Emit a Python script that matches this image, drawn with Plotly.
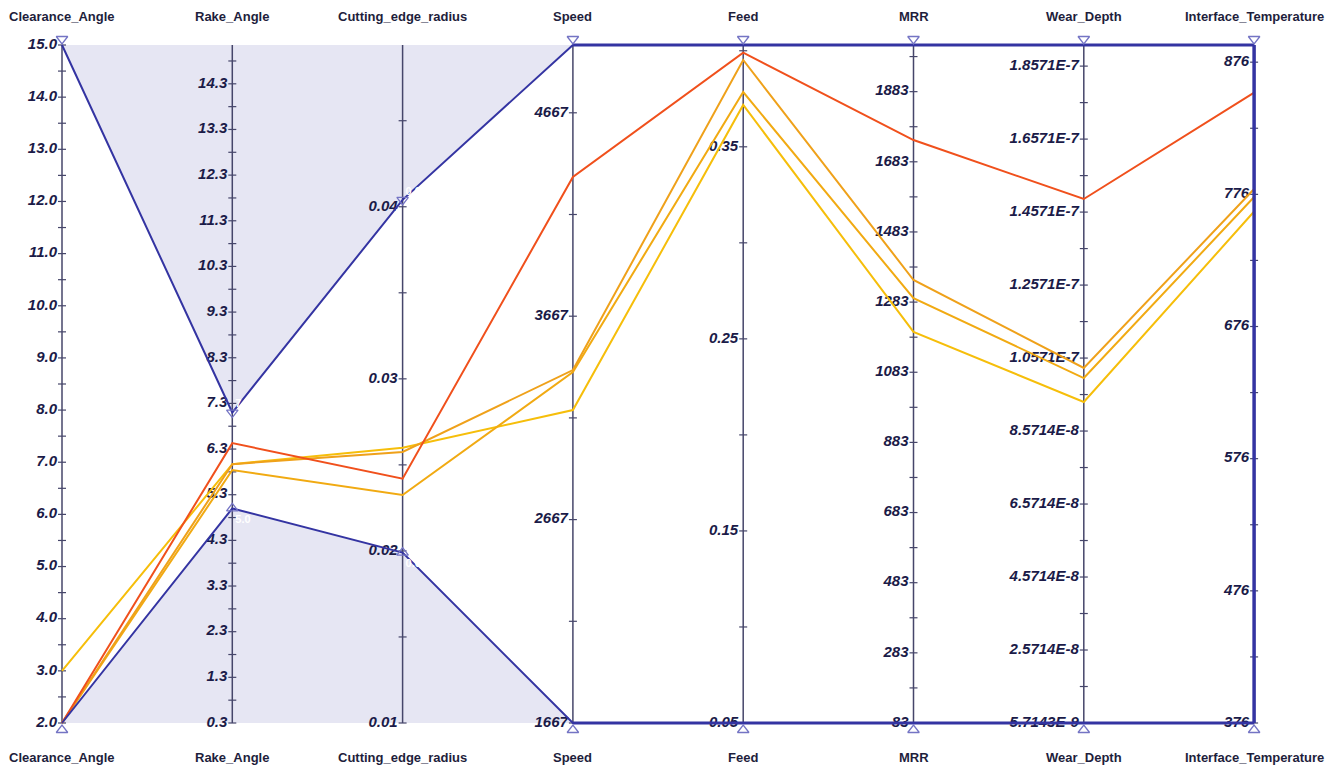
import plotly.graph_objects as go

# ---------------------------------------------------------------- data
dimensions = ["Clearance_Angle", "Rake_Angle", "Cutting_edge_radius", "Speed",
              "Feed", "MRR", "Wear_Depth", "Interface_Temperature"]

# axis ranges
range_min = [2.0, 0.3, 0.01, 1666.67, 0.05, 83.0, 5.7143e-9, 376.0]
range_max = [15.0, 15.15, 0.0494, 5000.0, 0.403, 2016.0, 1.915e-7, 889.0]

# designs, one value per design in each list
clearance_angle = [2.0, 2.0, 2.0, 3.0]
rake_angle = [6.43, 5.97, 5.84, 5.97]
cutting_edge_radius = [0.0242, 0.02575, 0.02325, 0.0260]
speed = [4351, 3402, 3392, 3205]
feed = [0.399, 0.3952, 0.3785, 0.3718]
mrr = [1745, 1346, 1294, 1198]
wear_depth = [1.493e-7, 1.030e-7, 1.0024e-7, 9.367e-8]
interface_temperature = [853, 780, 774, 763]
design_colors = ["#F0501C", "#EFA11A", "#F1AA12", "#F6BE0A"]

# active filter bounds on each axis
filter_low = [2.0, 5.0, 0.0199, 1666.67, 0.05, 83.0, 5.7143e-9, 376.0]
filter_high = [15.0, 7.1, 0.0404, 5000.0, 0.403, 2016.0, 1.915e-7, 889.0]
filter_low_text = ["", "5.0", "0.02", "", "", "", "", ""]
filter_high_text = ["", "7.1", "0.04", "", "", "", "", ""]

# tick values and labels per axis
clearance_ticks = [2.0 + i for i in range(14)]
clearance_labels = ["2.0", "3.0", "4.0", "5.0", "6.0", "7.0", "8.0", "9.0",
                    "10.0", "11.0", "12.0", "13.0", "14.0", "15.0"]
rake_ticks = [0.3 + i for i in range(15)]
rake_labels = ["0.3", "1.3", "2.3", "3.3", "4.3", "5.3", "6.3", "7.3",
               "8.3", "9.3", "10.3", "11.3", "12.3", "13.3", "14.3"]
radius_ticks = [0.01, 0.02, 0.03, 0.04]
radius_labels = ["0.01", "0.02", "0.03", "0.04"]
speed_ticks = [1666.67, 2666.67, 3666.67, 4666.67]
speed_labels = ["1667", "2667", "3667", "4667"]
feed_ticks = [0.05, 0.15, 0.25, 0.35]
feed_labels = ["0.05", "0.15", "0.25", "0.35"]
mrr_ticks = [83 + 200 * i for i in range(10)]
mrr_labels = ["83", "283", "483", "683", "883", "1083", "1283", "1483", "1683", "1883"]
wear_ticks = [5.7143e-9 + 2e-8 * i for i in range(10)]
wear_labels = ["5.7143E-9", "2.5714E-8", "4.5714E-8", "6.5714E-8", "8.5714E-8",
               "1.0571E-7", "1.2571E-7", "1.4571E-7", "1.6571E-7", "1.8571E-7"]
temp_ticks = [376, 476, 576, 676, 776, 876]
temp_labels = ["376", "476", "576", "676", "776", "876"]

tick_sets = [(clearance_ticks, clearance_labels), (rake_ticks, rake_labels),
             (radius_ticks, radius_labels), (speed_ticks, speed_labels),
             (feed_ticks, feed_labels), (mrr_ticks, mrr_labels),
             (wear_ticks, wear_labels), (temp_ticks, temp_labels)]

# ---------------------------------------------------------------- layout geometry
W, H = 1338, 767
X0_PX, DX_PX = 62, 170.3          # first axis position, axis spacing
TOP_PX, BOT_PX = 45, 723          # plot band
SPAN_PX = BOT_PX - TOP_PX
PX_X = 1.0 / DX_PX
PX_Y = 1.0 / SPAN_PX

AXIS_COLOR = "#46466A"
FILTER_COLOR = "#3434A2"
SHADE_COLOR = "#E6E6F3"
TEXT_COLOR = "#1B1B48"
FONT = "Arial, Liberation Sans, sans-serif"

n = len(dimensions)
xs = list(range(n))


def norm(v, i):
    return (v - range_min[i]) / (range_max[i] - range_min[i])


fig = go.Figure()

# shaded area outside the filter band
fig.add_trace(go.Scatter(x=xs, y=[1.0] * n, mode="lines", line=dict(width=0),
                         hoverinfo="skip"))
fig.add_trace(go.Scatter(x=xs, y=[norm(filter_high[i], i) for i in xs], mode="lines",
                         line=dict(width=0), fill="tonexty", fillcolor=SHADE_COLOR,
                         hoverinfo="skip"))
fig.add_trace(go.Scatter(x=xs, y=[0.0] * n, mode="lines", line=dict(width=0),
                         hoverinfo="skip"))
fig.add_trace(go.Scatter(x=xs, y=[norm(filter_low[i], i) for i in xs], mode="lines",
                         line=dict(width=0), fill="tonexty", fillcolor=SHADE_COLOR,
                         hoverinfo="skip"))

# axis lines
ax_x, ax_y = [], []
for i in xs:
    ax_x += [i, i, None]
    ax_y += [0.0, 1.0, None]
fig.add_trace(go.Scatter(x=ax_x, y=ax_y, mode="lines",
                         line=dict(color=AXIS_COLOR, width=1.5), hoverinfo="skip"))

# tick marks (major at labels, minor halfway between)
tk_x, tk_y = [], []
half = 4 * PX_X
for i, (tv, _) in enumerate(tick_sets):
    step = tv[1] - tv[0]
    marks = list(tv) + [t + step / 2 for t in tv]
    for t in marks:
        yy = norm(t, i)
        if -1e-6 <= yy <= 1 + 1e-6:
            tk_x += [i - half, i + half, None]
            tk_y += [yy, yy, None]
fig.add_trace(go.Scatter(x=tk_x, y=tk_y, mode="lines",
                         line=dict(color=AXIS_COLOR, width=1.2), hoverinfo="skip"))

# tick labels
for i, (tv, tl) in enumerate(tick_sets):
    fig.add_trace(go.Scatter(
        x=[i - 5 * PX_X] * len(tv), y=[norm(t, i) for t in tv], mode="text",
        text=tl, textposition="middle left",
        textfont=dict(family=FONT, size=15, color=TEXT_COLOR, weight="bold", style="italic"),
        hoverinfo="skip"))

# designs
columns = [clearance_angle, rake_angle, cutting_edge_radius, speed, feed, mrr,
           wear_depth, interface_temperature]
n_designs = len(clearance_angle)
for d in reversed(range(n_designs)):
    fig.add_trace(go.Scatter(
        x=xs, y=[norm(columns[i][d], i) for i in xs], mode="lines",
        line=dict(color=design_colors[d], width=2), hoverinfo="skip"))

# filter envelope
fig.add_trace(go.Scatter(x=xs, y=[norm(filter_high[i], i) for i in xs], mode="lines",
                         line=dict(color=FILTER_COLOR, width=2), hoverinfo="skip"))
fig.add_trace(go.Scatter(x=xs, y=[norm(filter_low[i], i) for i in xs], mode="lines",
                         line=dict(color=FILTER_COLOR, width=2), hoverinfo="skip"))
full = [i for i in xs if filter_high[i] == range_max[i] and filter_low[i] == range_min[i]]
box_start = next(i for i in range(n) if all(j in full for j in range(i, n)))
fig.add_trace(go.Scatter(x=list(range(box_start, n)), y=[1.0] * (n - box_start),
                         mode="lines", line=dict(color=FILTER_COLOR, width=3),
                         hoverinfo="skip"))
fig.add_trace(go.Scatter(x=list(range(box_start, n)), y=[0.0] * (n - box_start),
                         mode="lines", line=dict(color=FILTER_COLOR, width=3),
                         hoverinfo="skip"))
fig.add_trace(go.Scatter(x=[n - 1, n - 1], y=[0.0, 1.0], mode="lines",
                         line=dict(color=FILTER_COLOR, width=3.5), hoverinfo="skip"))

# filter handles
hi_x, hi_y, lo_x, lo_y = [], [], [], []
for i in xs:
    yh = norm(filter_high[i], i)
    yl = norm(filter_low[i], i)
    hi_x.append(i)
    hi_y.append(yh + (6 * PX_Y if yh >= 1 - 1e-9 else 0))
    lo_x.append(i)
    lo_y.append(yl - (7 * PX_Y if yl <= 1e-9 else 0))
fig.add_trace(go.Scatter(x=hi_x, y=hi_y, mode="markers",
                         marker=dict(symbol="triangle-down-open", size=10,
                                     color="#7474C4", line=dict(width=1.3)),
                         hoverinfo="skip"))
fig.add_trace(go.Scatter(x=lo_x, y=lo_y, mode="markers",
                         marker=dict(symbol="triangle-up-open", size=10,
                                     color="#7474C4", line=dict(width=1.3)),
                         hoverinfo="skip"))

# filter values written beside the handles
fig.add_trace(go.Scatter(
    x=[i + 3 * PX_X for i in xs], y=[norm(filter_high[i], i) + 8 * PX_Y for i in xs],
    mode="text", text=filter_high_text, textposition="middle right",
    textfont=dict(family=FONT, size=11, color="#FFFFFF", weight="bold"), hoverinfo="skip"))
fig.add_trace(go.Scatter(
    x=[i + 3 * PX_X for i in xs], y=[norm(filter_low[i], i) - 12 * PX_Y for i in xs],
    mode="text", text=filter_low_text, textposition="middle right",
    textfont=dict(family=FONT, size=11, color="#FFFFFF", weight="bold"), hoverinfo="skip"))

# axis titles, top and bottom
for i, name in enumerate(dimensions):
    for ypx in (17, 757):
        fig.add_annotation(x=i, xref="x", y=1 - ypx / H, yref="paper", text=f"<b>{name}</b>",
                           showarrow=False, xanchor="center", yanchor="middle",
                           font=dict(family=FONT, size=13, color="#1E1E3C"))

fig.update_layout(
    width=W, height=H, margin=dict(l=0, r=0, t=0, b=0),
    paper_bgcolor="white", plot_bgcolor="white", showlegend=False,
    xaxis=dict(visible=False, range=[-X0_PX * PX_X, (W - X0_PX) * PX_X], fixedrange=True),
    yaxis=dict(visible=False, range=[-(H - BOT_PX) * PX_Y, 1 + TOP_PX * PX_Y], fixedrange=True),
)

fig.write_html("out.html")
